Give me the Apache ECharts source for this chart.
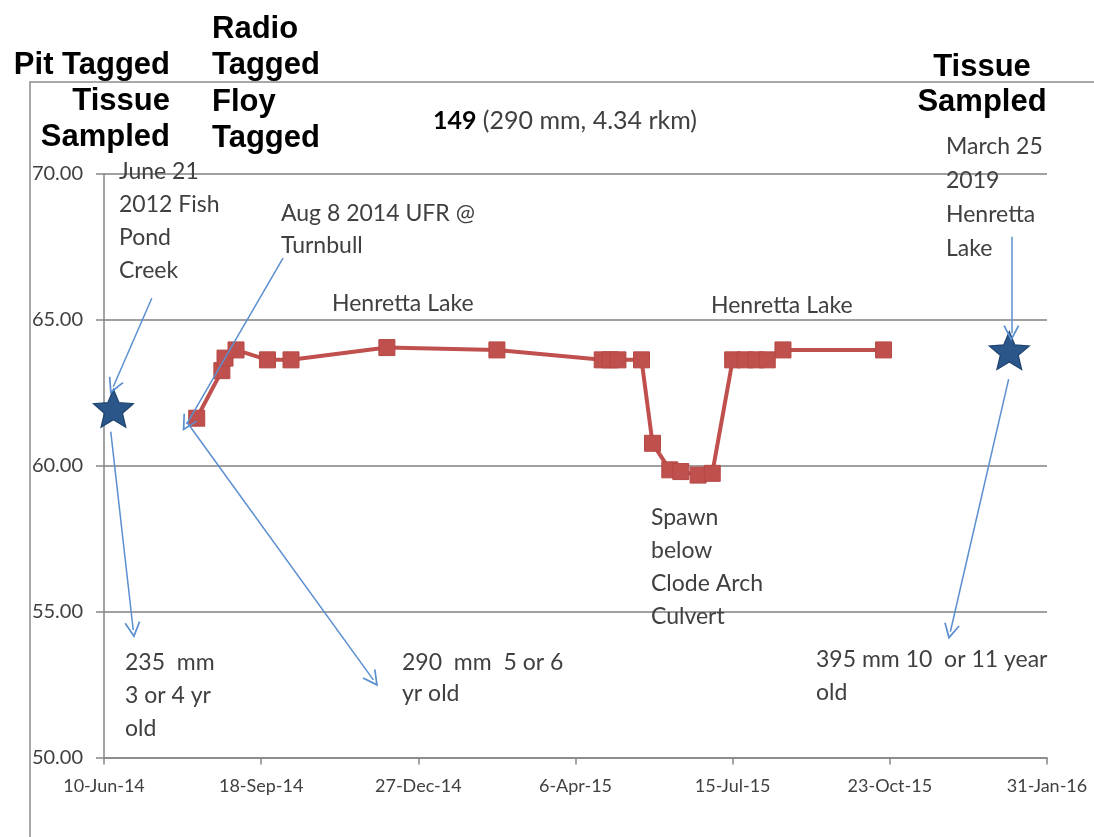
<!DOCTYPE html>
<html><head><meta charset="utf-8">
<script src="https://cdn.jsdelivr.net/npm/echarts@6/dist/echarts.min.js"></script>
<style>html,body{margin:0;padding:0;background:#fff}#c{width:1094px;height:837px}</style>
</head><body><div id="c"></div>
<script>
// ---- data ----
const xTickLabels = ['10-Jun-14','18-Sep-14','27-Dec-14','6-Apr-15','15-Jul-15','23-Oct-15','31-Jan-16'];
const yTickLabels = ['50.00','55.00','60.00','65.00','70.00'];
const fishDates = ['2014-08-08','2014-08-24','2014-08-26','2014-09-02','2014-09-22','2014-10-07','2014-12-07',
  '2015-02-15','2015-04-23','2015-04-28','2015-05-03','2015-05-18','2015-05-25','2015-06-05','2015-06-12',
  '2015-06-23','2015-07-02','2015-07-15','2015-07-23','2015-07-30','2015-08-06','2015-08-16','2015-10-19'];
const fishValues = [61.63,63.26,63.69,63.97,63.63,63.63,64.05,
  63.97,63.63,63.63,63.63,63.63,60.77,59.86,59.80,
  59.68,59.74,63.63,63.63,63.63,63.63,63.97,63.97];
const starDates = ['2014-06-16','2016-01-07'];
const starValues = [61.97, 63.95];
// annotation arrows in data coordinates (Excel date serial, value)
const arrowStarts = [[41830.4,65.74],[41913.9,67.12],[41804.3,61.17],[41852.6,61.51],[42377.3,67.85],[42375.6,62.97]];
const arrowEnds   = [[41805.9,62.71],[41852.6,61.43],[41818.6,54.37],[41971.4,52.66],[42377.3,64.54],[42338.5,54.31]];

// ---- helpers ----
function toSerial(s){const [y,m,d]=s.split('-').map(Number);return (Date.UTC(y,m-1,d)-Date.UTC(1899,11,30))/86400000;}
const X_MIN = toSerial('2014-06-10'); // 41800
const X_MAX = toSerial('2016-01-31'); // 42400

const fishData = fishDates.map((d,i)=>[toSerial(d), fishValues[i]]);
const starData = starDates.map((d,i)=>[toSerial(d), starValues[i]]);
const arrowData = arrowStarts.map((s,i)=>[{coord:s},{coord:arrowEnds[i]}]);

const STAR = 'path://M50,0 L63.23,31.8 L97.55,34.55 L71.4,56.95 L79.39,90.45 L50,72.5 L20.61,90.45 L28.6,56.95 L2.45,34.55 L36.77,31.8 Z';
const CHEVRON = 'path://M0,12 L6,0 L12,12 L10.9,12.6 L6,3 L1.1,12.6 Z';

const annFont = '23px Lato';
const annColor = '#404040';
function ann(text, x, yFirst, lh){
  return {type:'text', x:x, y:yFirst - lh/2, z:50, silent:true,
    style:{text:text, font:annFont, fill:annColor, lineHeight:lh, textVerticalAlign:'top'}};
}
function bigLabel(text, x, yFirst, lh, align){
  return {type:'text', x:x, y:yFirst - lh/2, z:50, silent:true,
    style:{text:text, font:'bold 31px "Liberation Sans"', fill:'#000', lineHeight:lh, textAlign:align, textVerticalAlign:'top'}};
}

const chart = echarts.init(document.getElementById('c'));
chart.setOption({
  animation:false,
  backgroundColor:'#fff',
  grid:{left:104, right:47, top:174, bottom:79.5, containLabel:false},
  xAxis:{type:'value', min:X_MIN, max:X_MAX, interval:100,
    axisLine:{show:true, lineStyle:{color:'#868686', width:1.5}},
    axisTick:{show:true, length:7, lineStyle:{color:'#868686', width:1.5}},
    splitLine:{show:false},
    axisLabel:{margin:20, fontFamily:'Lato', fontSize:18, color:'#404040',
      formatter:(v)=>xTickLabels[Math.round((v-X_MIN)/100)]||''}},
  yAxis:{type:'value', min:50, max:70, interval:5,
    axisLine:{show:true, lineStyle:{color:'#868686', width:1.5}},
    axisTick:{show:true, length:8, lineStyle:{color:'#868686', width:1.5}},
    splitLine:{show:true, lineStyle:{color:'#808080', width:1.5}},
    axisLabel:{margin:21, fontFamily:'Lato', fontSize:20, color:'#404040',
      formatter:(v)=>yTickLabels[Math.round((v-50)/5)]||''}},
  graphic:[
    {type:'rect', shape:{x:30, y:82, width:1200, height:900}, z:-10, silent:true,
      style:{fill:'none', stroke:'#8c8c8c', lineWidth:1.5}},
    {type:'text', x:565, y:121, z:50, silent:true,
      style:{text:'{b|149} (290 mm, 4.34 rkm)', font:'25px Lato', fill:'#404040', textAlign:'center', textVerticalAlign:'middle',
        rich:{b:{font:'bold 25px Lato', fill:'#000'}}}},
    bigLabel('Pit Tagged\nTissue\nSampled', 170, 65, 36, 'right'),
    bigLabel('Radio\nTagged\nFloy\nTagged', 212, 29, 36.5, 'left'),
    bigLabel('Tissue\nSampled', 982, 67, 35, 'center'),
    ann('June 21\n2012 Fish\nPond\nCreek', 119, 172, 33),
    ann('Aug 8 2014 UFR @\nTurnbull', 281, 214, 32),
    ann('Henretta Lake', 332, 304, 33),
    ann('Henretta Lake', 711, 306, 33),
    ann('Spawn\nbelow\nClode Arch\nCulvert', 651, 518, 33),
    ann('235  mm\n3 or 4 yr\nold', 125, 663, 33),
    ann('290  mm  5 or 6\nyr old', 402, 663, 31),
    ann('395 mm 10  or 11 year\nold', 816, 660, 33),
    ann('March 25\n2019\nHenretta\nLake', 946, 147, 34)
  ],
  series:[
    {type:'line', data:fishData, z:3,
      lineStyle:{color:'#c0504d', width:4},
      symbol:'rect', symbolSize:16,
      itemStyle:{color:'#c0504d', borderColor:'#b54845', borderWidth:1}},
    {type:'scatter', data:starData, z:4,
      symbol:STAR, symbolSize:[40,38],
      itemStyle:{color:'#2a5689', borderColor:'#1f4470', borderWidth:1.2, opacity:1}},
    {type:'line', data:[], z:10,
      markLine:{silent:true, symbol:['none', CHEVRON], symbolSize:16,
        label:{show:false}, emphasis:{disabled:true},
        lineStyle:{color:'#5b8fd0', width:1.5, type:'solid'},
        itemStyle:{color:'#5b8fd0'},
        data:arrowData}}
  ]
});
</script></body></html>
